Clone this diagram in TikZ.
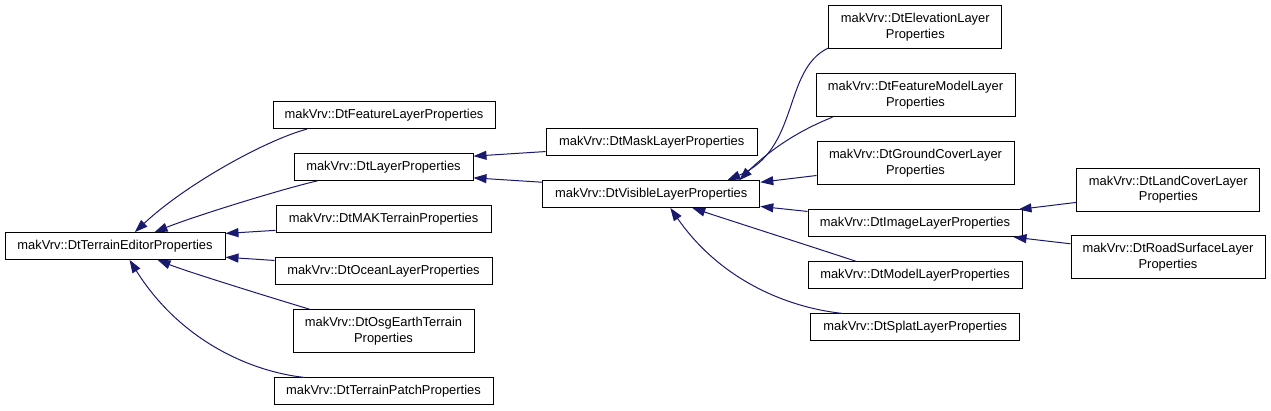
\documentclass[tikz,border=0pt]{standalone}
\usepackage{fontspec}
\setmainfont{Liberation Sans}
\usetikzlibrary{arrows.meta}
\definecolor{edgeblue}{HTML}{191970}
\begin{document}
\begin{tikzpicture}[x=1pt,y=-1pt,
  box/.style={draw=black,line width=1pt,fill=white,inner sep=0pt,align=center,
    font=\fontsize{12.9}{15.7}\selectfont},
  one/.style={minimum height=26.7pt},
  two/.style={minimum height=43pt},
  edge/.style={draw=edgeblue,line width=1pt,-{Triangle[length=13pt,width=9pt]}}]
\useasboundingbox (0,0) rectangle (1271,411);
% nodes
\node[box,one,minimum width=220pt] (TE) at (115,246) {makVrv::DtTerrainEditorProperties};
\node[box,one,minimum width=222pt] (FL) at (384,115.3) {makVrv::DtFeatureLayerProperties};
\node[box,one,minimum width=179pt] (LP) at (383.5,167) {makVrv::DtLayerProperties};
\node[box,one,minimum width=215pt] (MAK) at (383.5,219.2) {makVrv::DtMAKTerrainProperties};
\node[box,one,minimum width=217pt] (OC) at (383.5,271.3) {makVrv::DtOceanLayerProperties};
\node[box,two,minimum width=181pt] (OSG) at (383.5,331.2) {makVrv::DtOsgEarthTerrain\\Properties};
\node[box,one,minimum width=219pt] (TP) at (383.5,391.3) {makVrv::DtTerrainPatchProperties};
\node[box,one,minimum width=211pt] (MASK) at (651.7,141.7) {makVrv::DtMaskLayerProperties};
\node[box,one,minimum width=217pt] (VIS) at (651.3,194.1) {makVrv::DtVisibleLayerProperties};
\node[box,two,minimum width=173pt] (ELEV) at (915.3,27) {makVrv::DtElevationLayer\\Properties};
\node[box,two,minimum width=199pt] (FM) at (915.5,95.2) {makVrv::DtFeatureModelLayer\\Properties};
\node[box,two,minimum width=197pt] (GC) at (915.5,163.2) {makVrv::DtGroundCoverLayer\\Properties};
\node[box,one,minimum width=214pt] (IMG) at (915,223.3) {makVrv::DtImageLayerProperties};
\node[box,one,minimum width=214pt] (MOD) at (915,275.3) {makVrv::DtModelLayerProperties};
\node[box,one,minimum width=209pt] (SPL) at (915.3,327.2) {makVrv::DtSplatLayerProperties};
\node[box,two,minimum width=183pt] (LC) at (1168.3,189.7) {makVrv::DtLandCoverLayer\\Properties};
\node[box,two,minimum width=194pt] (RS) at (1168,257.5) {makVrv::DtRoadSurfaceLayer\\Properties};
% edges (child -> parent, arrow at parent)
\draw[edge] ([xshift=34.3pt]FL.south west) .. controls +(-42,11.3) and +(50,-47) .. ([xshift=130.3pt]TE.north west);
\draw[edge] ([xshift=24pt]LP.south west) .. controls +(-35,8) and +(40,-16) .. ([xshift=150pt]TE.north west);
\draw[edge] ([yshift=2.7pt]MAK.south west) -- ([yshift=-1.3pt]TE.north east);
\draw[edge] ([yshift=-3pt]OC.north west) -- ([yshift=2.6pt]TE.south east);
\draw[edge] ([xshift=17pt]OSG.north west) .. controls +(-30,-9) and +(30,12) .. ([xshift=153pt]TE.south west);
\draw[edge] ([xshift=31pt]TP.north west) .. controls +(-55,-6) and +(50,80) .. ([xshift=125pt]TE.south west);
\draw[edge] ([yshift=4pt]MASK.south west) -- ([yshift=-3pt]LP.north east);
\draw[edge] ([yshift=-2pt]VIS.north west) -- ([yshift=3pt]LP.south east);
\draw[edge] ([yshift=1pt]ELEV.south west) .. controls +(-46,22) and +(73,-31) .. ([xshift=-33pt]VIS.north east);
\draw[edge] ([xshift=17pt]FM.south west) .. controls +(-33,13) and +(31,-31) .. ([xshift=-21pt]VIS.north east);
\draw[edge] ([yshift=9.7pt]GC.south west) -- ([yshift=-2pt]VIS.north east);
\draw[edge] ([yshift=-2pt]IMG.north west) -- ([yshift=1.5pt]VIS.south east);
\draw[edge] ([xshift=49pt]MOD.north west) .. controls +(-30,-10) and +(30,10) .. ([xshift=150pt]VIS.south west);
\draw[edge] ([xshift=31.5pt]SPL.north west) .. controls +(-55,-6) and +(50,72) .. ([xshift=128pt]VIS.south west);
\draw[edge] ([yshift=9.3pt]LC.south west) -- ([xshift=-4pt]IMG.north east);
\draw[edge] ([yshift=-8.3pt]RS.north west) -- ([xshift=-9pt]IMG.south east);
\end{tikzpicture}
\end{document}
